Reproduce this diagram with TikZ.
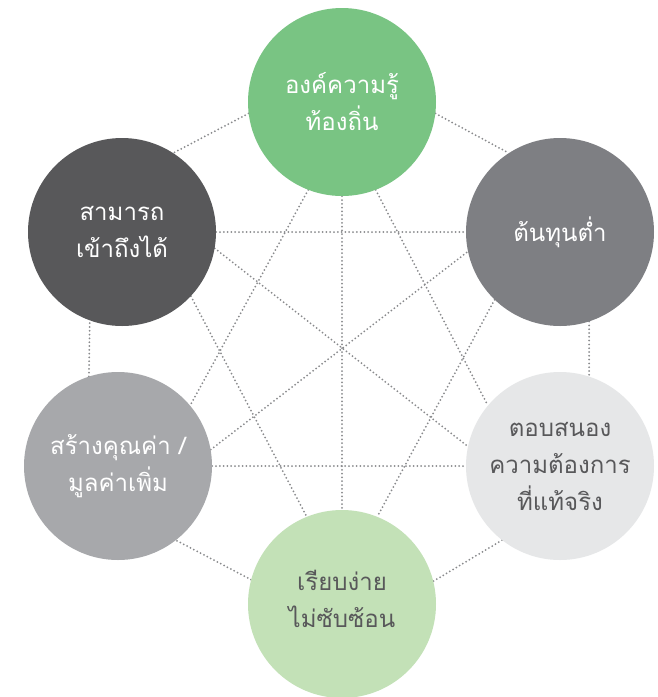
\documentclass[tikz,border=0pt]{standalone}
\usepackage{fontspec}
\newfontfamily\thaifont[Script=Thai]{Loma}
\definecolor{leafgreen}{HTML}{79C483}
\definecolor{palegreen}{HTML}{C3E1B7}
\definecolor{midgray}{HTML}{7E7F83}
\definecolor{lightgray}{HTML}{E6E7E8}
\definecolor{softgray}{HTML}{A7A8AB}
\definecolor{darkgray}{HTML}{58585A}
\definecolor{dotgray}{HTML}{898A8D}
\pgfdeclarelayer{bg}
\pgfsetlayers{bg,main}
\tikzset{
  hub/.style={circle, minimum size=188pt, inner sep=0pt, align=center,
    font=\thaifont\fontsize{24}{37}\selectfont},
  link/.style={draw=dotgray, line width=2pt, line cap=round,
    dash pattern=on 0pt off 3.8pt},
}
\begin{document}
\begin{tikzpicture}[x=1pt,y=-1pt]
\useasboundingbox (0,0) rectangle (657,697);
\clip (0,0) rectangle (657,697);

% the six hubs
\node[hub, fill=leafgreen, text=white] (top) at (342,102) {องค์ความรู้\\ท้องถิ่น};
\node[hub, fill=midgray, text=white] (ur) at (560,232) {ต้นทุนต่ำ};
\node[hub, fill=lightgray, text=darkgray] (lr) at (560,466) {ตอบสนอง\\ความต้องการ\\ที่แท้จริง};
\node[hub, fill=palegreen, text=darkgray] (bot) at (342,604) {\\[-26pt]เรียบง่าย\\ไม่ซับซ้อน};
\node[hub, fill=softgray, text=white] (ll) at (118,466) {สร้างคุณค่า /\\มูลค่าเพิ่ม};
\node[hub, fill=darkgray, text=white] (ul) at (122,232) {สามารถ\\เข้าถึงได้};

\begin{pgfonlayer}{bg}
  \fill[white] (0,0) rectangle (657,697);
  % outer ring
  \draw[link] (top.187) -- (ul.57);
  \draw[link] (top.-7) -- (ur.123);
  \draw[link] (ur.-72) -- (lr.72);
  \draw[link] (lr.232) -- (bot.14.5);
  \draw[link] (bot.165.5) -- (ll.-52);
  \draw[link] (ll.108) -- (ul.-110.6);
  % straight crossings
  \draw[link] (ul.0) -- (ur.180);
  \draw[link] (ll.0) -- (lr.180);
  \draw[link] (top.-90) -- (bot.90);
  % diagonals
  \draw[link] (ul.-10) -- (lr.168);
  \draw[link] (ll.10) -- (ur.192);
  \draw[link] (top.-111) -- (ll.40);
  \draw[link] (top.-69) -- (lr.140);
  \draw[link] (ul.-43) -- (bot.112);
  \draw[link] (ur.-134) -- (bot.68);
\end{pgfonlayer}
\end{tikzpicture}
\end{document}
